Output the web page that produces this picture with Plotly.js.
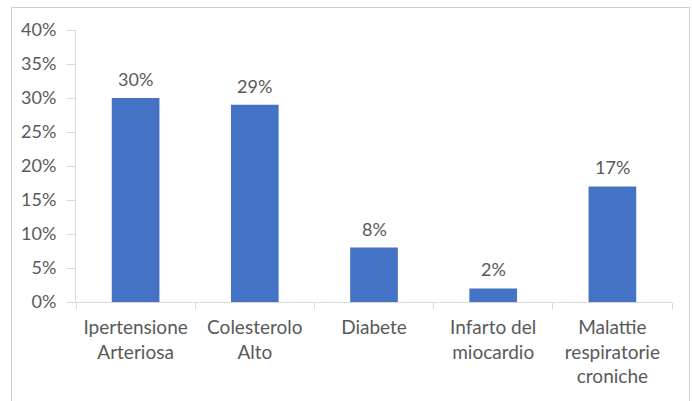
<!DOCTYPE html>
<html>
<head>
<meta charset="utf-8">
<script src="https://cdn.plot.ly/plotly-3.0.1.min.js"></script>
<style>
  html, body { margin: 0; padding: 0; background: #ffffff; }
  #wrap { position: relative; width: 692px; height: 401px; overflow: hidden; }
  #chart { width: 692px; height: 401px; }
  #frame { position: absolute; left: 11px; top: 7px; width: 677px; height: 400px;
           border: 1px solid #cfcfcf; pointer-events: none; }
</style>
</head>
<body>
<div id="wrap">
  <div id="chart"></div>
  <div id="frame"></div>
</div>
<script>
const categories = ["Ipertensione<br>Arteriosa", "Colesterolo<br>Alto", "Diabete", "Infarto del<br>miocardio", "Malattie<br>respiratorie<br>croniche"];
const values = [30, 29, 8, 2, 17];
const valueLabels = ["30%", "29%", "8%", "2%", "17%"];
const yTicks = [0, 5, 10, 15, 20, 25, 30, 35, 40];

const fontFam = "Lato, 'Open Sans', sans-serif";
const textColor = "#595959";
const axisColor = "#d9d9d9";

const trace = {
  type: "bar",
  x: categories,
  y: values,
  marker: { color: "#4472c4" },
  hoverinfo: "none"
};

const annotations = categories.map((c, i) => ({
  x: c, y: values[i], xref: "x", yref: "y",
  text: valueLabels[i], showarrow: false,
  yanchor: "bottom", yshift: 6,
  font: { family: fontFam, size: 18, color: textColor }
}));

const L = 76, R = 20, T = 30, B = 99, W = 692, H = 401;

const layout = {
  width: W, height: H,
  margin: { l: L, r: R, t: T, b: B, pad: 0 },
  paper_bgcolor: "#ffffff",
  plot_bgcolor: "#ffffff",
  showlegend: false,
  bargap: 0.6,
  font: { family: fontFam, size: 18, color: textColor },
  xaxis: {
    type: "category",
    showline: true, linecolor: axisColor, linewidth: 1,
    ticks: "outside", tickson: "boundaries", ticklen: 6, tickcolor: axisColor,
    ticklabelstandoff: 8,
    showgrid: false, zeroline: false,
    tickfont: { family: fontFam, size: 19, color: textColor }
  },
  yaxis: {
    range: [0, 40],
    tickvals: yTicks,
    ticktext: yTicks.map(v => v + "%"),
    showline: true, linecolor: axisColor, linewidth: 1,
    ticks: "outside", ticklen: 8, tickcolor: axisColor,
    ticklabelstandoff: 7,
    showgrid: false, zeroline: false,
    tickfont: { family: fontFam, size: 18, color: textColor }
  },
  annotations: annotations
};

Plotly.newPlot("chart", [trace], layout, { displayModeBar: false, staticPlot: true });
</script>
</body>
</html>
